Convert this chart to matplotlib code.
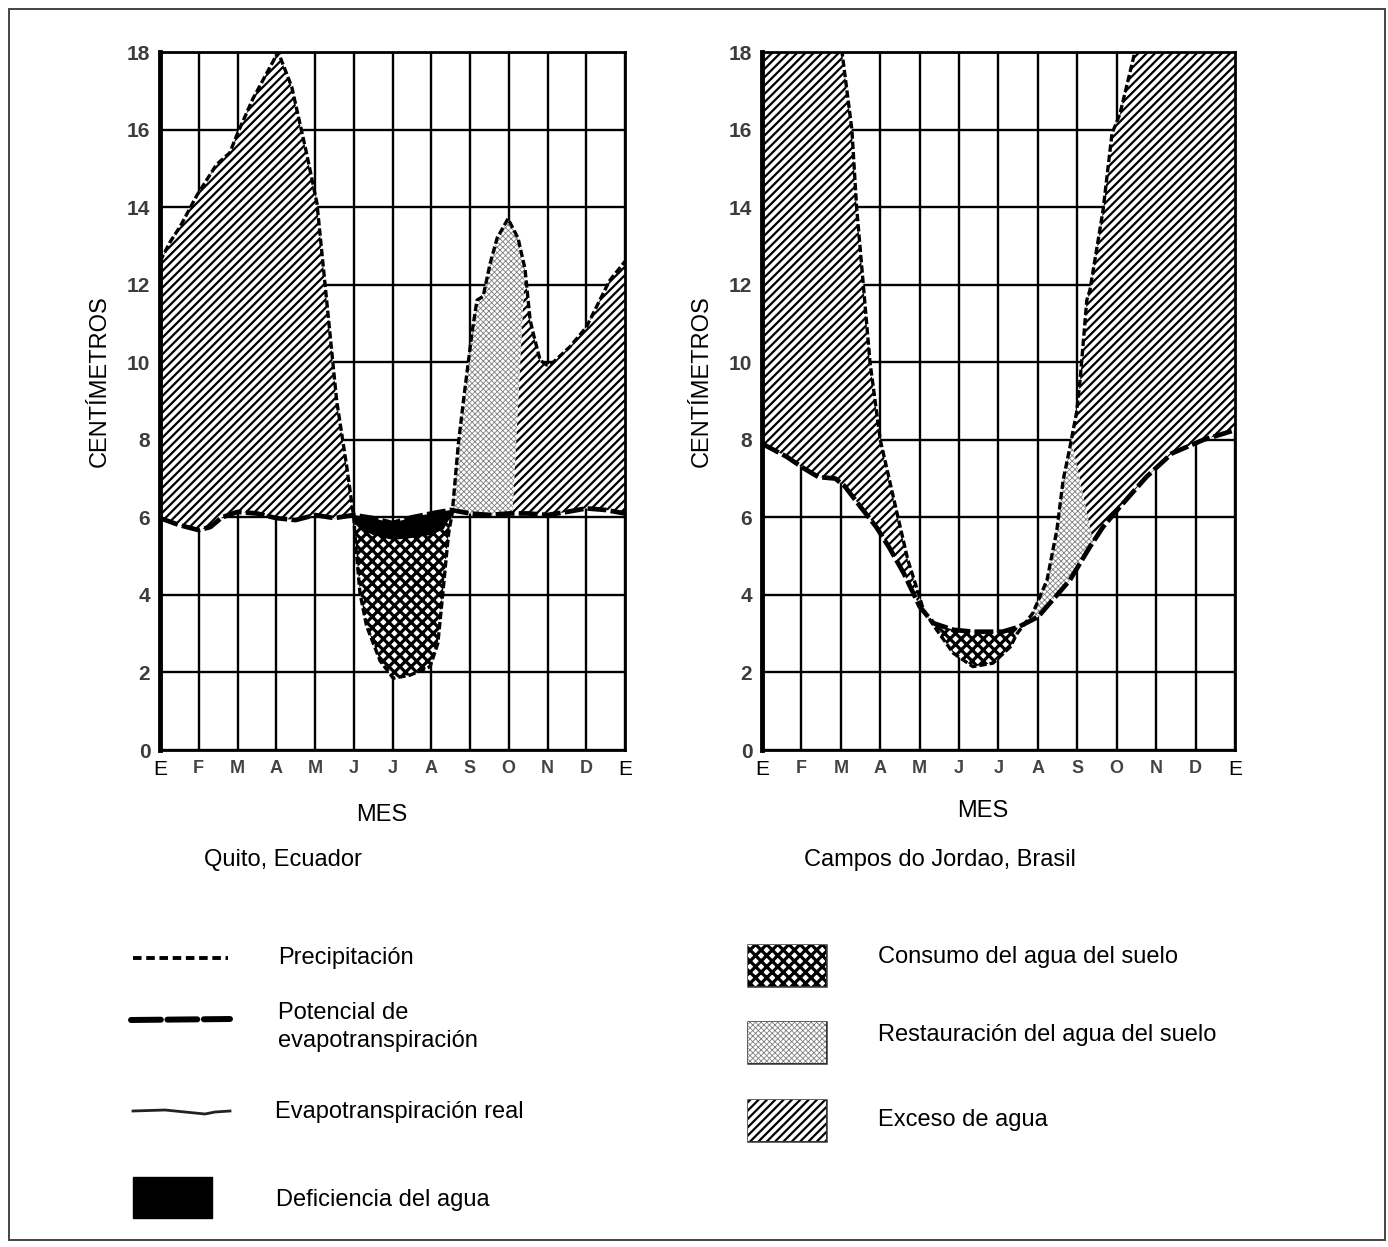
import numpy as np
import matplotlib
matplotlib.use("Agg")
import matplotlib.pyplot as plt
from matplotlib.patches import Polygon, Rectangle
from matplotlib.lines import Line2D

# ---------------- data ----------------
months = ["E", "F", "M", "A", "M", "J", "J", "A", "S", "O", "N", "D", "E"]
y_ticks = [0, 2, 4, 6, 8, 10, 12, 14, 16, 18]

# Quito, Ecuador (cm); x = months since start of January
quito_p_x = [0, 0.26, 0.52, 0.95, 1.46, 1.8, 2.0, 2.4, 3.05, 3.4, 3.78, 4.05, 4.2, 4.3,
             4.56, 4.82, 5.0, 5.05, 5.16, 5.33, 5.68, 6.02, 6.45, 6.97, 7.17, 7.3, 7.38,
             7.45, 7.54, 7.7, 7.83, 8.05, 8.18, 8.34, 8.52, 8.7, 8.98, 9.24, 9.42, 9.55,
             9.63, 9.81, 9.98, 10.15, 10.58, 11.0, 11.2, 11.6, 12.0]
quito_p_y = [12.6, 13.1, 13.5, 14.3, 15.1, 15.4, 15.9, 16.8, 18.0, 17.1, 15.4, 14.1, 12.6, 11.6,
             9.0, 7.3, 6.0, 5.3, 4.05, 3.2, 2.3, 1.85, 1.93, 2.15, 2.75, 4.05, 4.9,
             5.6, 6.1, 7.9, 9.0, 10.75, 11.6, 11.7, 12.55, 13.2, 13.7, 13.2, 12.4, 11.1,
             10.75, 10.05, 9.93, 10.0, 10.4, 10.9, 11.3, 12.1, 12.6]
quito_pe_x = [0, 0.5, 1.0, 1.3, 1.6, 2.0, 2.5, 3.0, 3.5, 4.0, 4.5, 5.0, 5.5, 6.0, 6.5,
              7.0, 7.5, 8.0, 8.5, 9.0, 9.5, 10.0, 10.5, 11.0, 11.5, 12.0]
quito_pe_y = [5.98, 5.8, 5.67, 5.75, 6.0, 6.14, 6.1, 5.98, 5.93, 6.06, 5.98, 6.06, 5.98, 5.85, 6.0,
              6.1, 6.19, 6.1, 6.06, 6.1, 6.1, 6.06, 6.14, 6.23, 6.19, 6.1]
quito_ae_x = [5.0, 5.2, 5.5, 6.0, 6.5, 7.0, 7.3, 7.54]
quito_ae_y = [6.06, 5.72, 5.58, 5.45, 5.5, 5.58, 5.72, 6.19]
# x where the regions change: [excess end, restoration start, restoration end on P, on PE]
quito_splits = [5.0, 7.54, 9.42, 9.1]

# Campos do Jordao, Brasil (cm)
campos_p_x = [0, 1.0, 2.03, 2.28, 2.4, 2.57, 2.74, 3.0, 3.45, 3.7, 3.95, 4.1, 4.43, 4.85,
              5.35, 5.86, 6.3, 6.47, 6.87, 7.23, 7.48, 7.64, 7.81, 7.98, 8.07, 8.24, 8.32,
              8.65, 8.88, 9.08, 9.46, 10.0, 12.0]
campos_p_y = [20.0, 19.5, 18.0, 16.0, 14.0, 12.0, 10.0, 8.0, 6.0, 4.9, 4.1, 3.6, 3.1, 2.5,
              2.15, 2.24, 2.66, 3.0, 3.53, 4.38, 5.67, 6.96, 7.8, 8.7, 9.54, 11.6, 11.86,
              13.9, 15.9, 16.4, 18.0, 18.8, 20.5]
campos_pe_x = [0, 0.63, 1.05, 1.43, 1.86, 2.1, 2.5, 2.9, 3.24, 3.6, 4.0, 4.35, 4.85, 5.35,
               6.1, 6.5, 7.0, 7.23, 7.81, 8.32, 8.65, 9.08, 9.75, 10.4, 11.2, 12.0]
campos_pe_y = [7.9, 7.56, 7.27, 7.04, 7.0, 6.8, 6.27, 5.75, 5.2, 4.55, 3.7, 3.27, 3.1, 3.05,
               3.05, 3.17, 3.43, 3.7, 4.38, 5.24, 5.75, 6.27, 7.04, 7.65, 8.0, 8.25]
campos_splits = [4.1, 6.47, 7.85, 8.4]

# ---------------- figure ----------------
W, H = 1388, 1247
fig = plt.figure(figsize=(W / 100, H / 100), dpi=100)
SANS = "Liberation Sans"


def px_ax(x0, y0, x1, y1):
    return [x0 / W, 1 - y1 / H, (x1 - x0) / W, (y1 - y0) / H]


STY = {
    "exc": dict(facecolor="white", edgecolor="black", hatch="////", hlw=1.6),
    "cons": dict(facecolor="white", edgecolor="black", hatch="xxx", hlw=2.3),
    "rest": dict(facecolor="white", edgecolor="#808080", hatch="xxxxxx", hlw=0.6),
    "def": dict(facecolor="black", edgecolor="black", hatch=None, hlw=1.0),
}


def make_patch(verts, style, zorder=2, lw=0):
    plt.rcParams["hatch.linewidth"] = style["hlw"]
    poly = Polygon(verts, closed=True, facecolor=style["facecolor"],
                   edgecolor=style["edgecolor"], hatch=style["hatch"],
                   linewidth=lw, zorder=zorder)
    if hasattr(poly, "set_hatch_linewidth"):
        poly.set_hatch_linewidth(style["hlw"])
    return poly


def seg(xs, ys, a, b):
    xs = np.asarray(xs, float)
    ys = np.asarray(ys, float)
    g = np.union1d(np.linspace(a, b, 300), xs[(xs > a) & (xs < b)])
    return g, np.interp(g, xs, ys)


def region(ax, tx, ty, t0, t1, bx, by, b0, b1, style):
    xt, yt = seg(tx, ty, t0, t1)
    xb, yb = seg(bx, by, b0, b1)
    verts = np.column_stack([np.r_[xt, xb[::-1]], np.r_[yt, yb[::-1]]])
    ax.add_patch(make_patch(verts, STY[style]))


def setup(ax):
    ax.set_xlim(0, 12)
    ax.set_ylim(0, 18)
    ax.set_xticks(range(13))
    ax.set_xticklabels(months)
    ax.set_yticks(y_ticks)
    ax.set_yticklabels([str(v) for v in y_ticks])
    ax.grid(True, color="black", lw=1.7)
    ax.set_axisbelow(True)
    ax.tick_params(length=0)
    ax.tick_params(axis="y", pad=7)
    ax.tick_params(axis="x", pad=7)
    for sp in ("top", "right", "bottom"):
        ax.spines[sp].set_linewidth(2.0)
    ax.spines["left"].set_linewidth(3.5)
    for t in ax.get_yticklabels():
        t.set_fontfamily(SANS)
        t.set_fontweight("bold")
        t.set_fontsize(15)
        t.set_color("#3c3c3c")
    for i, t in enumerate(ax.get_xticklabels()):
        t.set_fontfamily(SANS)
        if i in (0, 12):
            t.set_fontweight("normal")
            t.set_fontsize(15)
            t.set_color("black")
        else:
            t.set_fontweight("bold")
            t.set_fontsize(13)
            t.set_color("#444444")


def lines(ax, px, py, pex, pey):
    ax.plot(px, py, color="black", lw=2.4, dashes=(2.2, 0.9), zorder=4,
            dash_capstyle="butt")
    ax.plot(pex, pey, color="black", lw=3.4, dashes=(4.0, 0.9), zorder=5,
            dash_capstyle="butt")


# ---- Quito ----
axq = fig.add_axes(px_ax(160, 52, 625, 750))
setup(axq)
s = quito_splits
region(axq, quito_p_x, quito_p_y, 0, s[0], quito_pe_x, quito_pe_y, 0, s[0], "exc")
region(axq, quito_pe_x, quito_pe_y, s[0], s[1], quito_ae_x, quito_ae_y, s[0], s[1], "def")
region(axq, quito_ae_x, quito_ae_y, s[0], s[1], quito_p_x, quito_p_y, s[0], s[1], "cons")
region(axq, quito_p_x, quito_p_y, s[1], s[2], quito_pe_x, quito_pe_y, s[1], s[3], "rest")
region(axq, quito_p_x, quito_p_y, s[2], 12, quito_pe_x, quito_pe_y, s[3], 12, "exc")
lines(axq, quito_p_x, quito_p_y, quito_pe_x, quito_pe_y)
axq.plot(quito_ae_x, quito_ae_y, color="black", lw=1.8, zorder=4)

# ---- Campos do Jordao ----
axc = fig.add_axes(px_ax(762, 52, 1235, 750))
setup(axc)
s = campos_splits
region(axc, campos_p_x, campos_p_y, 0, s[0], campos_pe_x, campos_pe_y, 0, s[0], "exc")
region(axc, campos_pe_x, campos_pe_y, s[0], s[1], campos_p_x, campos_p_y, s[0], s[1], "cons")
region(axc, campos_p_x, campos_p_y, s[1], s[2], campos_pe_x, campos_pe_y, s[1], s[3], "rest")
region(axc, campos_p_x, campos_p_y, s[2], 12, campos_pe_x, campos_pe_y, s[3], 12, "exc")
lines(axc, campos_p_x, campos_p_y, campos_pe_x, campos_pe_y)

# ---- overlay for text, legend and frame ----
ov = fig.add_axes([0, 0, 1, 1])
ov.set_xlim(0, W)
ov.set_ylim(H, 0)
ov.axis("off")
ov.patch.set_alpha(0)

TXT = dict(fontfamily=SANS, fontsize=17, color="black")
ov.text(100, 381, "CENTÍMETROS", rotation=90, ha="center", va="center", **TXT)
ov.text(702, 381, "CENTÍMETROS", rotation=90, ha="center", va="center", **TXT)
ov.text(382, 815, "MES", ha="center", va="center", **TXT)
ov.text(983, 811, "MES", ha="center", va="center", **TXT)
ov.text(283, 860, "Quito, Ecuador", ha="center", va="center", **TXT)
ov.text(940, 860, "Campos do Jordao, Brasil", ha="center", va="center", **TXT)

# legend - left column
ov.add_line(Line2D([133, 228], [958, 958], color="black", lw=2.8, dashes=(2.2, 1.2)))
ov.text(278, 958, "Precipitación", ha="left", va="center", **TXT)
ov.add_line(Line2D([131, 230], [1020, 1019], color="black", lw=4.3, dashes=(5.0, 1.1),
                   dash_capstyle="round"))
ov.text(278, 1027, "Potencial de\nevapotranspiración", ha="left", va="center",
        linespacing=1.4, **TXT)
ov.add_line(Line2D([133, 165, 195, 205, 215, 230], [1111, 1110, 1113, 1114, 1112, 1111],
                   color="#222222", lw=2.0))
ov.text(275, 1112, "Evapotranspiración real", ha="left", va="center", **TXT)
ov.add_patch(Rectangle((133, 1177), 79, 41, facecolor="black", edgecolor="black", lw=1))
ov.text(276, 1200, "Deficiencia del agua", ha="left", va="center", **TXT)


def legend_box(y0, style):
    verts = np.array([[748, y0], [826, y0], [826, y0 + 41], [748, y0 + 41]])
    ov.add_patch(make_patch(verts, STY[style]))
    ov.add_patch(Rectangle((748, y0), 78, 41, fill=False, edgecolor="#333333", lw=1.8))


legend_box(945, "cons")
ov.text(878, 957, "Consumo del agua del suelo", ha="left", va="center", **TXT)
legend_box(1022, "rest")
ov.text(878, 1035, "Restauración del agua del suelo", ha="left", va="center", **TXT)
legend_box(1100, "exc")
ov.text(878, 1120, "Exceso de agua", ha="left", va="center", **TXT)

# outer frame
ov.add_patch(Rectangle((9, 9), 1376, 1231, fill=False, edgecolor="#444444", lw=1.4))

fig.savefig("out.png", dpi=100)
